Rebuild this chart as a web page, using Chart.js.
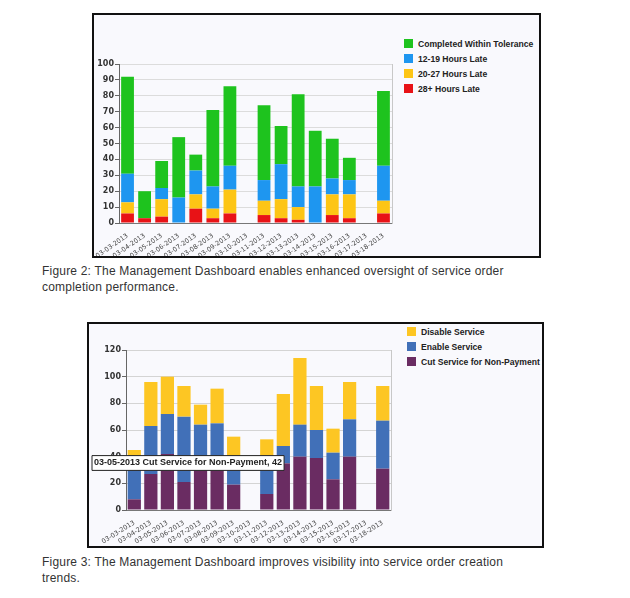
<!DOCTYPE html>
<html lang="en">
<head>
    <meta charset="UTF-8">
    <title>Management Dashboard Figures</title>
    <style>
        * {
            margin: 0;
            padding: 0;
            box-sizing: border-box;
        }
        body {
            width: 630px;
            height: 598px;
            background: #fff;
            position: relative;
            overflow: hidden;
            font-family: 'Liberation Sans', Arial, sans-serif;
        }
        .box {
            position: absolute;
            border: 2px solid #111;
            background: #f9f9fd;
        }
        .chart-wrap {
            position: absolute;
            left: 0;
            top: 0;
        }
        .legend {
            position: absolute;
            font: bold 8.6px 'Liberation Sans', Arial, sans-serif;
            color: #222;
        }
        .legend-item {
            display: flex;
            align-items: center;
            height: 15px;
        }
        .legend-item span {
            display: inline-block;
            width: 9px;
            height: 9px;
            margin-right: 5px;
        }
        .caption {
            position: absolute;
            left: 42px;
            font-size: 12px;
            line-height: 16px;
            letter-spacing: 0.2px;
            color: #333;
        }
    </style>
    <script src="https://cdn.jsdelivr.net/npm/chart.js@4.4.1/dist/chart.umd.min.js"></script>
</head>
<body>
    <div class="box" id="box1" style="left:92px; top:13px; width:449px; height:245px;">
        <div class="chart-wrap" style="width:310px; height:241px;">
            <canvas id="tardyChart"></canvas>
        </div>
        <div class="legend" id="legend1" style="left:310px; top:21px;"></div>
    </div>
    <div class="caption" style="top:263px;">
        Figure 2: The Management Dashboard enables enhanced oversight of service order<br>completion performance.
    </div>

    <div class="box" id="box2" style="left:87px; top:322px; width:457px; height:226px;">
        <div class="chart-wrap" style="width:312px; height:222px;">
            <canvas id="orderChart"></canvas>
        </div>
        <div class="legend" id="legend2" style="left:318px; top:0px;"></div>
    </div>
    <div class="caption" style="top:554px;">
        Figure 3: The Management Dashboard improves visibility into service order creation<br>trends.
    </div>

    <script>
        // tick labels (x axis) shared by both charts
        const dates = ['03-03-2013', '03-04-2013', '03-05-2013', '03-06-2013', '03-07-2013', '03-08-2013',
            '03-09-2013', '03-10-2013', '03-11-2013', '03-12-2013', '03-13-2013', '03-14-2013',
            '03-15-2013', '03-16-2013', '03-17-2013', '03-18-2013'];

        // Figure 2 - completion performance (bottom of stack first)
        const late28 = [6, 3, 4, 0, 9, 3, 6, 0, 5, 3, 2, 0, 5, 3, 0, 6];
        const late20 = [7, 0, 11, 0, 9, 6, 15, 0, 9, 12, 8, 0, 13, 15, 0, 8];
        const late12 = [18, 0, 7, 16, 15, 14, 15, 0, 13, 22, 13, 23, 10, 9, 0, 22];
        const withinTol = [61, 17, 17, 38, 10, 48, 50, 0, 47, 24, 58, 35, 25, 14, 0, 47];

        // Figure 3 - service order creation (bottom of stack first)
        const cutService = [8, 27, 42, 21, 37, 38, 19, 0, 12, 35, 40, 39, 23, 40, 0, 31];
        const enableService = [22, 36, 30, 49, 27, 27, 17, 0, 26, 13, 24, 21, 20, 28, 0, 36];
        const disableService = [15, 33, 28, 23, 15, 26, 19, 0, 15, 39, 50, 33, 18, 28, 0, 26];

        const tickFont = { family: "'DejaVu Sans', Verdana, sans-serif", size: 8, weight: 'bold' };
        const dateFont = { family: "'DejaVu Sans', Verdana, sans-serif", size: 6.5 };

        // legend built from the datasets, top of stack listed first
        function buildLegend(id, datasets) {
            const el = document.getElementById(id);
            datasets.slice().reverse().forEach(ds => {
                const row = document.createElement('div');
                row.className = 'legend-item';
                const sw = document.createElement('span');
                sw.style.background = ds.backgroundColor;
                row.appendChild(sw);
                row.appendChild(document.createTextNode(ds.label));
                el.appendChild(row);
            });
        }

        function makeScales(max, step, yWidth, xHeight, rot, gridColor) {
            return {
                x: {
                    stacked: true,
                    grid: { display: false },
                    border: { color: '#777' },
                    ticks: {
                        font: dateFont,
                        color: '#444',
                        minRotation: rot,
                        maxRotation: rot,
                        autoSkip: false,
                        padding: 1
                    },
                    afterFit: s => { s.height = xHeight; }
                },
                y: {
                    stacked: true,
                    min: 0,
                    max: max,
                    grid: { color: gridColor, tickColor: '#666', tickLength: 4 },
                    border: { color: '#666' },
                    ticks: { stepSize: step, font: tickFont, color: '#333', padding: 1 },
                    afterFit: s => { s.width = yWidth; }
                },
                y2: {
                    position: 'right',
                    grid: { display: false },
                    border: { color: '#c8c8c8' },
                    ticks: { display: false },
                    afterFit: s => { s.width = 0; }
                }
            };
        }

        // ---------- Figure 2 ----------
        const ds1 = [
            { label: '28+ Hours Late', data: late28, backgroundColor: '#e81216' },
            { label: '20-27 Hours Late', data: late20, backgroundColor: '#fdc515' },
            { label: '12-19 Hours Late', data: late12, backgroundColor: '#1e96f0' },
            { label: 'Completed Within Tolerance', data: withinTol, backgroundColor: '#1ec31e' }
        ];
        ds1.forEach(d => { d.categoryPercentage = 0.75; d.barPercentage = 1; });

        new Chart(document.getElementById('tardyChart'), {
            type: 'bar',
            data: { labels: dates, datasets: ds1 },
            options: {
                responsive: true,
                maintainAspectRatio: false,
                animation: false,
                events: [],
                layout: { padding: { top: 49, right: 12, left: 0, bottom: 0 } },
                plugins: { legend: { display: false }, tooltip: { enabled: false } },
                scales: makeScales(100, 10, 25, 33, 35, '#dcdcdc')
            }
        });
        buildLegend('legend1', ds1);

        // ---------- Figure 3 ----------
        const ds2 = [
            { label: 'Cut Service for Non-Payment', data: cutService, backgroundColor: '#6a2c62' },
            { label: 'Enable Service', data: enableService, backgroundColor: '#4170b8' },
            { label: 'Disable Service', data: disableService, backgroundColor: '#fdc623' }
        ];
        ds2.forEach(d => { d.categoryPercentage = 0.8; d.barPercentage = 1; });

        Chart.Tooltip.positioners.pinned = function () {
            return { x: 3, y: 139, xAlign: 'left', yAlign: 'center' };
        };

        const orderChart = new Chart(document.getElementById('orderChart'), {
            type: 'bar',
            data: { labels: dates, datasets: ds2 },
            options: {
                responsive: true,
                maintainAspectRatio: false,
                animation: false,
                events: [],
                layout: { padding: { top: 26, right: 10, left: 0, bottom: 0 } },
                plugins: {
                    legend: { display: false },
                    tooltip: {
                        position: 'pinned',
                        backgroundColor: '#fff',
                        borderColor: '#222',
                        borderWidth: 1,
                        cornerRadius: 0,
                        caretSize: 0,
                        caretPadding: 0,
                        displayColors: false,
                        padding: { x: 2, y: 2 },
                        bodyColor: '#222',
                        bodyFont: { family: "'Liberation Sans', Arial, sans-serif", size: 9, weight: 'bold' },
                        callbacks: {
                            title: () => '',
                            label: ctx => ctx.label + ' ' + ctx.dataset.label + ', ' + ctx.raw
                        }
                    }
                },
                scales: makeScales(120, 20, 37, 36, 32, '#d4d4d4')
            }
        });
        buildLegend('legend2', ds2);

        // the reference shows the hover box for 03-05-2013, cut service
        orderChart.tooltip.setActiveElements([{ datasetIndex: 0, index: 2 }], { x: 0, y: 0 });
        orderChart.update();
    </script>
</body>
</html>
